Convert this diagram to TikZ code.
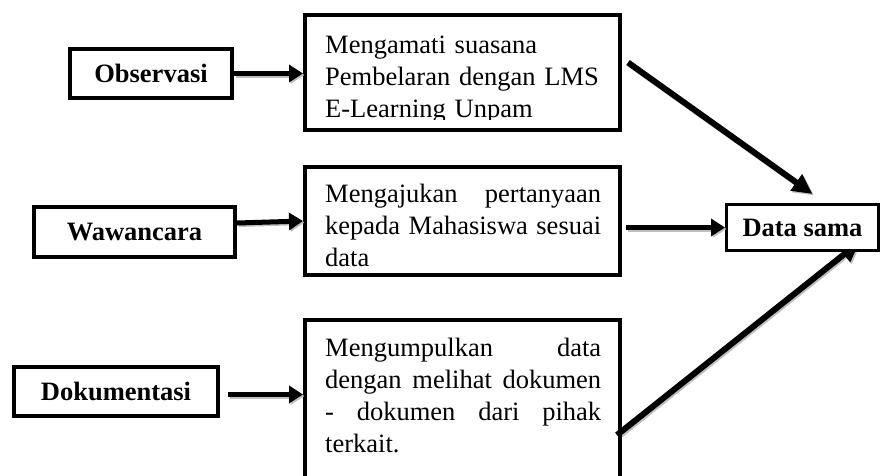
\documentclass[tikz,border=0pt]{standalone}
\usepackage{fontspec}
\setmainfont{Liberation Serif}
\usetikzlibrary{arrows.meta}
\usetikzlibrary{backgrounds}
\hyphenpenalty=10000

\begin{document}
\begin{tikzpicture}[x=1pt, y=-1pt,
    labelbox/.style={draw, line width=4pt, inner sep=0pt, fill=white,
      font=\fontsize{26.5}{32}\selectfont\bfseries},
    notebox/.style={draw, line width=4pt, inner sep=0pt, minimum width=315pt},
    notetext/.style={anchor=north west, inner sep=0pt, text width=276pt,
      font=\fontsize{26.5}{32}\selectfont},
    flow/.style={line width=5pt, -{Triangle[length=14pt,width=17pt]},
      preaction={draw=gray!50, line width=5pt, -{Triangle[length=14pt,width=17pt]},
        transform canvas={shift={(1.5pt,-1.5pt)}}}},
    bigflow/.style={line width=6pt, -{Triangle[length=20pt,width=19pt]},
      preaction={draw=gray!50, line width=6pt, -{Triangle[length=20pt,width=19pt]},
        transform canvas={shift={(1.5pt,-1.5pt)}}}}]
  \useasboundingbox (0,0) rectangle (881,475);

  % Draw the three sources on the left
  \node[labelbox, minimum width=162pt, minimum height=49pt] (obs) at (151,73.5) {Observasi};
  \node[labelbox, minimum width=201pt, minimum height=50pt] (waw) at (134.5,232) {Wawancara};
  \node[labelbox, minimum width=204pt, minimum height=49pt] (dok) at (116,391.5) {Dokumentasi};

  % Draw the three description boxes
  \node[notebox, minimum height=115pt] (amati) at (462.5,72.5) {};
  \node[notebox, minimum height=108pt] (aju) at (462.5,221) {};
  \node[notebox, minimum height=172pt] (kumpul) at (462.5,406) {};

  % Draw the result box
  \node[labelbox, line width=3pt, minimum width=152pt, minimum height=46pt] (sama) at (802.5,227.5) {Data sama};

  % Texts of the description boxes (cut off at the bottom)
  \begin{scope}
    \clip (amati.north west) rectangle ([yshift=13pt]amati.south east);
    \node[notetext, align=left] (amatitext) at (325,35.5)
      {Mengamati suasana\\Pembelaran dengan LMS\\E-Learning Unpam};
  \end{scope}
  \begin{scope}
    \clip (aju.north west) rectangle ([yshift=8pt]aju.south east);
    \node[notetext, align=justify] (ajutext) at (325,183.5)
      {Mengajukan pertanyaan\linebreak kepada Mahasiswa sesuai\linebreak data};
  \end{scope}
  \node[notetext, align=justify] (kumpultext) at (325,338)
    {Mengumpulkan data\linebreak dengan melihat dokumen\linebreak - dokumen dari pihak\linebreak terkait.};

  % Draw the arrows into the description boxes
  \coordinate (dokout) at ([xshift=8pt,yshift=-3pt]dok.east);
  \draw[flow] (obs.east) -- (obs.east -| amati.west);
  \draw[flow] ([yshift=9pt]waw.east) -- (aju.west);
  \draw[flow] (dokout) -- (dokout -| kumpul.west);

  % Draw the arrows into the result box
  \coordinate (ajuout) at (aju.east |- sama.west);
  \draw[flow] ([xshift=4pt]ajuout) -- (sama.west);
  \draw[bigflow] ([xshift=6pt,yshift=10pt]amati.east) -- ([xshift=10pt,yshift=9pt]sama.north);
  \begin{scope}[on background layer]
    \draw[bigflow] ([xshift=-5pt,yshift=-29pt]kumpul.east) -- ([xshift=57pt,yshift=10pt]sama.south);
  \end{scope}
\end{tikzpicture}
\end{document}
